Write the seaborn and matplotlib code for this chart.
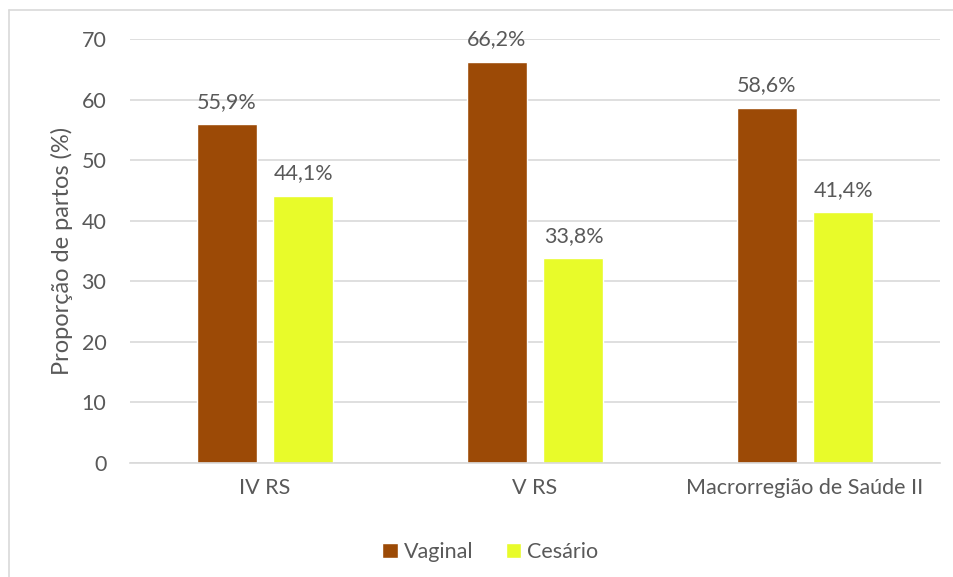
import matplotlib
matplotlib.use("Agg")
import matplotlib.pyplot as plt
from matplotlib.lines import Line2D
import seaborn as sns
import pandas as pd

categories = ["IV RS", "V RS", "Macrorregião de Saúde II"]
series = ["Vaginal", "Cesário"]
vaginal = [55.9, 66.2, 58.6]
cesario = [44.1, 33.8, 41.4]
yticks = [0, 10, 20, 30, 40, 50, 60, 70]
colors = ["#9C4A06", "#E8FB2A"]

df = pd.DataFrame({
    "cat": categories * 2,
    "tipo": [series[0]] * 3 + [series[1]] * 3,
    "val": vaginal + cesario,
})

sns.set_theme(style="white")
plt.rcParams['font.family'] = ['Lato', 'DejaVu Sans']
txt = "#595959"
fs = 15.5

fig = plt.figure(figsize=(9.54, 5.77), dpi=100)
ax = fig.add_axes([130/954, 1-463/577, 810/954, 424/577])

sns.barplot(data=df, x="cat", y="val", hue="tipo", palette=colors,
            width=0.57, gap=0.22, ax=ax, saturation=1, legend=True)

ax.set_xlim(-0.5, 2.5)
ax.set_ylim(0, 70)
ax.set_yticks(yticks)
ax.yaxis.grid(True, color="#d9d9d9", linewidth=1.2)
ax.set_axisbelow(True)
for s in ["top", "right", "left"]:
    ax.spines[s].set_visible(False)
ax.spines["bottom"].set_color("#d9d9d9")
ax.spines["bottom"].set_linewidth(1.2)
ax.tick_params(axis="both", length=0, labelsize=fs, colors=txt)
ax.tick_params(axis="y", pad=17)
ax.tick_params(axis="x", pad=11)
ax.set_xlabel("")
ax.set_ylabel("Proporção de partos (%)", fontsize=17, color=txt, labelpad=6)

for cont in ax.containers:
    labels = [f"{v:.1f}%".replace(".", ",") for v in cont.datavalues]
    ax.bar_label(cont, labels=labels, padding=9, fontsize=fs, color=txt)

ax.legend(loc="upper center", bbox_to_anchor=(0.445, -0.14), ncol=2, frameon=False,
          fontsize=fs, labelcolor=txt, handlelength=0.7, handleheight=0.7,
          handletextpad=0.3, columnspacing=1.5)

fig.add_artist(Line2D([9/954, 1], [1-10/577, 1-10/577], color="#d9d9d9", lw=1.2,
                      transform=fig.transFigure))
fig.add_artist(Line2D([9/954, 9/954], [0, 1-10/577], color="#d9d9d9", lw=1.2,
                      transform=fig.transFigure))

fig.savefig("out.png", dpi=100)
